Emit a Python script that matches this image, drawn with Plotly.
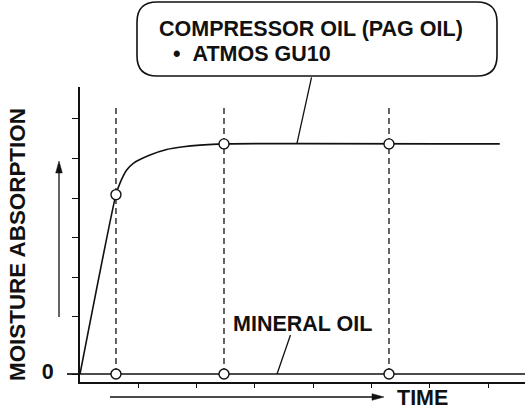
import plotly.graph_objects as go

# ---------------- data ----------------
time_ticks = [1, 2, 3, 4, 5, 6, 7]
moisture_ticks = [0, 1.44, 2.44, 3.44, 4.44, 5.44, 6.44]
moisture_ticktext = ["0", "", "", "", "", "", ""]

pag_x = [0, 0.617, 0.686, 0.801, 0.914, 1.20, 1.487, 1.772, 2.058, 2.47, 7.20]
pag_y = [0, 4.53, 4.82, 5.15, 5.32, 5.53, 5.67, 5.74, 5.78, 5.81, 5.81]

pag_mark_x = [0.617, 2.47, 5.30]
pag_mark_y = [4.53, 5.81, 5.81]

mineral_x = [0, 7.633]
mineral_y = [0, 0]
mineral_mark_x = [0.617, 2.47, 5.30]
mineral_mark_y = [0, 0, 0]

guide_x = [0.617, 2.47, 5.30]
guide_top = 6.72

# ---------------- layout geometry ----------------
W, H = 525, 411
ML, MR, MT, MB = 80, 0, 87, 29
PW, PH = W - ML - MR, H - MT - MB
X_RANGE = [0, 7.633]
Y_RANGE = [-0.202, 7.247]


def P(px, py):
    """pixel -> paper coords"""
    return (px - ML) / PW, (H - MB - py) / PH


def pp(px, py):
    a, b = P(px, py)
    return f"{a:.5f},{b:.5f}"


FONT = "Liberation Sans, Arial, sans-serif"
BLACK = "#111111"

fig = go.Figure()

# dashed vertical guides
gx, gy = [], []
for x in guide_x:
    gx += [x, x, None]
    gy += [0, guide_top, None]
fig.add_trace(go.Scatter(x=gx, y=gy, mode="lines",
                         line=dict(color=BLACK, width=1.3, dash="6px,4px"),
                         hoverinfo="skip", showlegend=False))

# mineral oil
fig.add_trace(go.Scatter(x=mineral_x, y=mineral_y, mode="lines",
                         line=dict(color=BLACK, width=1.7), showlegend=False))
# PAG oil
fig.add_trace(go.Scatter(x=pag_x, y=pag_y, mode="lines",
                         line=dict(color=BLACK, width=1.6, shape="spline", smoothing=0.6),
                         showlegend=False))
# markers
marker = dict(size=10, color="white", line=dict(color=BLACK, width=1.4))
fig.add_trace(go.Scatter(x=mineral_mark_x, y=mineral_mark_y, mode="markers",
                         marker=marker, showlegend=False, cliponaxis=False))
fig.add_trace(go.Scatter(x=pag_mark_x, y=pag_mark_y, mode="markers",
                         marker=marker, showlegend=False, cliponaxis=False))

shapes = []
# extension of the zero line left of the axis
shapes.append(dict(type="line", xref="paper", yref="y", x0=P(67, 0)[0], x1=0, y0=0, y1=0,
                   line=dict(color=BLACK, width=1.7)))
# mineral oil leader
shapes.append(dict(type="line", xref="x", yref="y", x0=3.38, y0=0, x1=3.61, y1=0.985,
                   line=dict(color=BLACK, width=1.3)))

# callout rounded box
x0, y0, x1, y1, r = 137, 2, 497, 76, 20
path = (f"M{pp(x0 + r, y0)} L{pp(x1 - r, y0)} Q{pp(x1, y0)} {pp(x1, y0 + r)} "
        f"L{pp(x1, y1 - r)} Q{pp(x1, y1)} {pp(x1 - r, y1)} "
        f"L{pp(x0 + r, y1)} Q{pp(x0, y1)} {pp(x0, y1 - r)} "
        f"L{pp(x0, y0 + r)} Q{pp(x0, y0)} {pp(x0 + r, y0)} Z")
shapes.append(dict(type="path", xref="paper", yref="paper", path=path,
                   line=dict(color=BLACK, width=1.6), fillcolor="white"))

# arrows (axis direction indicators)
shapes.append(dict(type="line", xref="paper", yref="paper",
                   x0=P(59, 317)[0], y0=P(59, 317)[1], x1=P(59, 168)[0], y1=P(59, 168)[1],
                   line=dict(color=BLACK, width=1.3)))
shapes.append(dict(type="path", xref="paper", yref="paper",
                   path=f"M{pp(59, 161)} L{pp(55.7, 173)} L{pp(62.3, 173)} Z",
                   fillcolor=BLACK, line=dict(color=BLACK, width=0.5)))
shapes.append(dict(type="line", xref="paper", yref="paper",
                   x0=P(110, 397)[0], y0=P(110, 397)[1], x1=P(377, 397)[0], y1=P(377, 397)[1],
                   line=dict(color=BLACK, width=1.3)))
shapes.append(dict(type="path", xref="paper", yref="paper",
                   path=f"M{pp(384, 397)} L{pp(372, 393.7)} L{pp(372, 400.3)} Z",
                   fillcolor=BLACK, line=dict(color=BLACK, width=0.5)))

annotations = []


def text_ann(txt, px, py, size=21.5, xanchor="left", angle=0):
    a, b = P(px, py)
    annotations.append(dict(text=f"<b>{txt}</b>", x=a, y=b,
                            xref="paper", yref="paper", showarrow=False,
                            xanchor=xanchor, yanchor="middle", textangle=angle,
                            font=dict(family=FONT, size=size, color=BLACK)))


text_ann("COMPRESSOR OIL (PAG OIL)", 157, 29)
text_ann("•\u00a0\u00a0ATMOS GU10", 171, 54)
text_ann("MINERAL OIL", 231, 324)
text_ann("TIME", 395, 398)
text_ann("MOISTURE ABSORPTION", 17, 245, size=22.4, xanchor="center", angle=-90)

# PAG leader line to the callout box
annotations.append(dict(x=3.72, y=5.81, xref="x", yref="y", text="", showarrow=True,
                        arrowhead=0, arrowwidth=1.3, arrowcolor=BLACK,
                        ax=15, ay=-68, axref="pixel", ayref="pixel"))

fig.update_layout(
    width=W, height=H,
    margin=dict(l=ML, r=MR, t=MT, b=MB, pad=0),
    paper_bgcolor="white", plot_bgcolor="white",
    showlegend=False,
    shapes=shapes, annotations=annotations,
    xaxis=dict(range=X_RANGE, showgrid=False, zeroline=False,
               showline=True, linecolor=BLACK, linewidth=1.8,
               tickmode="array", tickvals=time_ticks, ticktext=[""] * len(time_ticks),
               ticks="outside", ticklen=4, tickwidth=1.3, tickcolor=BLACK,
               fixedrange=True),
    yaxis=dict(range=Y_RANGE, showgrid=False, zeroline=False,
               showline=True, linecolor=BLACK, linewidth=1.8,
               tickmode="array", tickvals=moisture_ticks, ticktext=moisture_ticktext,
               ticks="outside", ticklen=6, tickwidth=1.4, tickcolor=BLACK,
               tickfont=dict(family=FONT, size=21.5, color=BLACK, weight="bold"),
               ticklabelstandoff=14, ticklabelshift=-3,
               fixedrange=True),
)

fig.write_html("out.html", config={"displayModeBar": False},
               post_script="document.body.style.margin='0px';document.body.style.overflow='hidden';")
